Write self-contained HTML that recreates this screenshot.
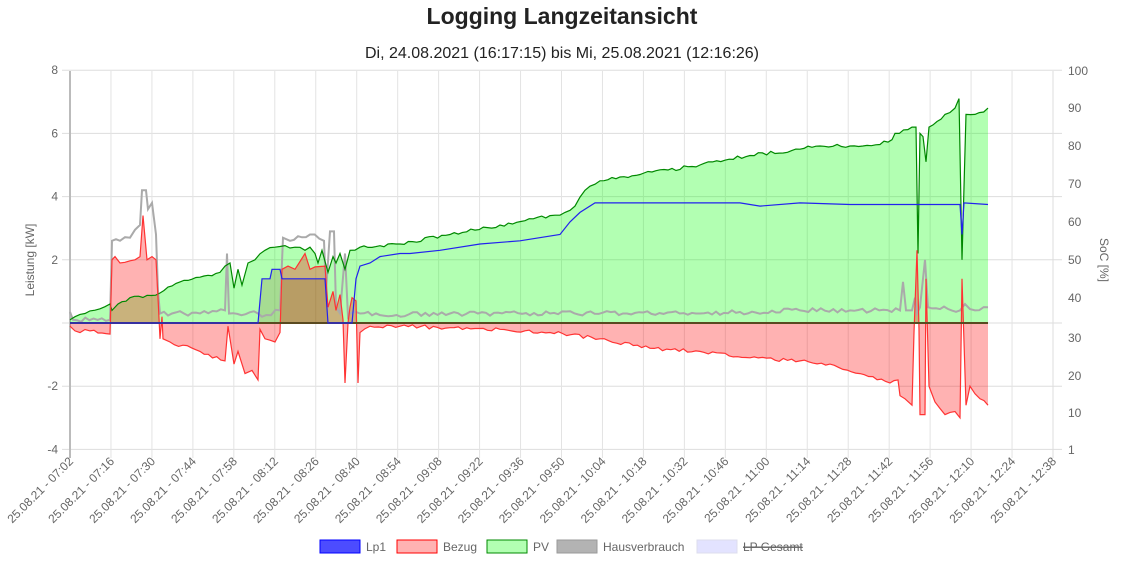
<!DOCTYPE html>
<html><head><meta charset="utf-8"><style>
body{margin:0;background:#fff;width:1125px;height:560px;overflow:hidden;font-family:"Liberation Sans",sans-serif}
svg text{font-family:"Liberation Sans",sans-serif}
</style></head><body>
<svg id="s" width="1125" height="560" xmlns="http://www.w3.org/2000/svg">
<text x="562" y="24" text-anchor="middle" font-size="23" font-weight="bold" fill="#222">Logging Langzeitansicht</text>
<text x="562" y="58" text-anchor="middle" font-size="16" fill="#222">Di, 24.08.2021 (16:17:15) bis Mi, 25.08.2021 (12:16:26)</text>
<g id="grid"></g>
<g id="data"></g>
<text transform="translate(34,260) rotate(-90)" text-anchor="middle" font-size="12" fill="#666">Leistung [kW]</text>
<text transform="translate(1100,260) rotate(90)" text-anchor="middle" font-size="12" fill="#666">SoC [%]</text>
<g font-size="12" fill="#666">
<rect x="320" y="540" width="40" height="13" fill="rgba(0,0,255,0.7)" stroke="#00f"/><text x="366" y="551">Lp1</text>
<rect x="397" y="540" width="40" height="13" fill="rgba(255,0,0,0.3)" stroke="#f00"/><text x="443" y="551">Bezug</text>
<rect x="487" y="540" width="40" height="13" fill="rgba(0,255,0,0.3)" stroke="#080"/><text x="533" y="551">PV</text>
<rect x="557" y="540" width="40" height="13" fill="rgba(128,128,128,0.6)" stroke="#999"/><text x="603" y="551">Hausverbrauch</text>
<rect x="697" y="540" width="40" height="13" fill="rgba(200,200,255,0.5)" stroke="#dde"/><text x="743" y="551" text-decoration="line-through">LP Gesamt</text>
<line x1="743" y1="547" x2="802" y2="547" stroke="#666"/>
</g>
</svg>
<script>
const NS="http://www.w3.org/2000/svg";
const g=document.getElementById('grid'),d=document.getElementById('data');
function el(p,tag,a,txt){const e=document.createElementNS(NS,tag);for(const k in a)e.setAttribute(k,a[k]);if(txt)e.textContent=txt;p.appendChild(e);return e;}
const Y=v=>323-v*31.6;
const L=70,R=1053;
for(let v=-4;v<=8;v+=2){el(g,'line',{x1:62,x2:1062,y1:Y(v),y2:Y(v),stroke:'#ddd'});el(g,'text',{x:58,y:Y(v)+4,'text-anchor':'end','font-size':12,fill:'#666'},v);}
const soc=[[100,71],[90,108],[80,146],[70,184],[60,222],[50,260],[40,298],[30,338],[20,376],[10,413],[1,450]];
soc.forEach(s=>el(g,'text',{x:1068,y:s[1]+4,'font-size':12,fill:'#666'},s[0]));
const labs=['07:02','07:16','07:30','07:44','07:58','08:12','08:26','08:40','08:54','09:08','09:22','09:36','09:50','10:04','10:18','10:32','10:46','11:00','11:14','11:28','11:42','11:56','12:10','12:24','12:38'];
labs.forEach((l,i)=>{const x=L+i*(R-L)/24;el(g,'line',{x1:x,x2:x,y1:71,y2:458,stroke:'#e3e3e3'});
el(g,'text',{transform:`translate(${x+4},${462}) rotate(-45)`,'text-anchor':'end','font-size':12,fill:'#666'},'25.08.21 - '+l);});
el(g,'line',{x1:L,x2:L,y1:71,y2:458,stroke:'#bbb','stroke-width':2});
el(g,'line',{x1:R,x2:R,y1:71,y2:458,stroke:'#ddd'});
const pv=[[70,0.1],[75,0.2],[85,0.3],[100,0.45],[110,0.6],[112,0.4],[118,0.6],[130,0.8],[160,0.95],[180,1.3],[200,1.45],[220,1.6],[225,1.8],[230,1.9],[234,1.1],[238,1.7],[242,1.2],[248,1.9],[255,2.0],[265,2.3],[275,2.4],[285,2.45],[295,2.4],[305,2.3],[310,2.4],[315,2.2],[318,1.9],[322,2.3],[328,1.6],[333,2.1],[336,1.9],[340,2.2],[345,1.7],[350,2.3],[360,2.4],[400,2.5],[450,2.8],[500,3.1],[550,3.4],[565,3.5],[575,3.7],[585,4.2],[600,4.5],[640,4.7],[700,5.0],[750,5.3],[800,5.5],[820,5.6],[850,5.6],[880,5.65],[892,5.8],[895,6.0],[912,6.2],[916,6.2],[918,2.2],[920,6.0],[923,5.9],[926,5.1],[929,6.2],[945,6.6],[955,6.8],[959,7.1],[962,2.0],[966,6.6],[975,6.6],[988,6.8]];
const bz=[[70,-0.1],[75,-0.25],[90,-0.25],[110,-0.35],[112,2.0],[115,2.1],[120,1.9],[135,2.0],[140,2.1],[143,3.4],[147,2.0],[152,2.1],[156,2.0],[158,0.8],[160,-0.5],[162,0.2],[163,-0.5],[170,-0.6],[200,-0.9],[225,-1.2],[228,-0.1],[230,-0.5],[234,-1.3],[238,-0.9],[245,-1.6],[252,-1.5],[258,-1.8],[260,-0.2],[265,-0.5],[275,-0.6],[280,-0.3],[282,1.7],[288,1.8],[295,1.7],[305,2.2],[310,1.7],[325,1.8],[328,0.5],[333,1.0],[336,0.4],[340,0.9],[343,0.1],[345,-1.9],[348,0.0],[350,0.5],[352,0.8],[356,0.7],[358,-1.9],[360,-0.3],[370,-0.1],[400,-0.1],[450,-0.15],[500,-0.2],[550,-0.3],[600,-0.5],[650,-0.8],[700,-0.9],[750,-1.1],[800,-1.2],[830,-1.3],[860,-1.6],[890,-1.9],[898,-1.8],[900,-2.3],[905,-2.4],[912,-2.6],[914,-0.3],[917,2.3],[919,-0.2],[920,-2.9],[925,-2.9],[926,1.4],[929,-2.0],[935,-2.5],[945,-2.9],[955,-2.8],[960,-3.0],[962,1.4],[966,-2.6],[970,-2.0],[980,-2.4],[988,-2.6]];
const hv=[[70,0.35],[73,0.1],[110,0.1],[112,2.6],[120,2.6],[130,2.7],[140,3.1],[142,4.2],[146,4.2],[148,3.6],[152,3.8],[156,2.8],[158,1.0],[160,0.3],[200,0.3],[225,0.4],[227,2.2],[229,0.3],[258,0.3],[262,0.2],[280,0.4],[283,2.7],[290,2.6],[310,2.8],[324,2.6],[326,1.0],[330,2.9],[334,2.9],[336,0.5],[340,0.3],[345,2.2],[348,0.2],[350,0.3],[360,0.3],[380,0.25],[450,0.3],[550,0.3],[700,0.3],[800,0.4],[850,0.4],[900,0.4],[903,1.3],[906,0.4],[912,0.4],[915,0.8],[917,0.3],[920,0.5],[925,2.0],[928,0.5],[960,0.4],[965,0.6],[975,0.4],[988,0.5]];
const lp=[[70,0],[258,0],[262,1.4],[270,1.4],[272,1.7],[280,1.7],[282,1.4],[325,1.4],[328,0],[352,0],[356,1.4],[360,1.8],[370,1.9],[380,2.1],[400,2.2],[410,2.2],[440,2.3],[480,2.5],[520,2.6],[560,2.8],[570,3.2],[580,3.5],[595,3.8],[700,3.8],[740,3.8],[760,3.7],[800,3.8],[850,3.75],[960,3.75],[962,2.8],[964,3.8],[988,3.75]];
// densify with small deterministic jitter
function jit(a,amp,seed){const o=[];for(let i=0;i<a.length-1;i++){const[x0,y0]=a[i],[x1,y1]=a[i+1];o.push([x0,y0]);const n=Math.floor((x1-x0)/4);for(let k=1;k<n;k++){const t=k/n,x=x0+(x1-x0)*t;const r=Math.sin(x*12.9898+seed)*43758.5453;const f=r-Math.floor(r)-0.5;o.push([x,y0+(y1-y0)*t+f*amp]);}}o.push(a[a.length-1]);return o;}
const pvJ=jit(pv,0.12,1),bzJ=jit(bz,0.12,2),hvJ=jit(hv,0.15,3);
const pts=a=>a.map(p=>p[0].toFixed(1)+','+Y(p[1]).toFixed(1)).join(' ');
const area=a=>`${a[0][0]},${Y(0)} `+pts(a)+` ${a[a.length-1][0]},${Y(0)}`;
el(d,'polygon',{points:area(pvJ),fill:'rgba(0,255,0,0.3)'});
el(d,'polygon',{points:area(bzJ),fill:'rgba(255,0,0,0.3)'});
el(d,'polygon',{points:area(lp.filter(p=>p[0]<=330).concat([[330,0]])),fill:'rgba(110,60,0,0.18)'});
el(d,'polyline',{points:pts(hvJ),fill:'none',stroke:'#aaa','stroke-width':2});
el(d,'polyline',{points:pts(pvJ),fill:'none',stroke:'#080','stroke-width':1.2});
el(d,'polyline',{points:pts(bzJ),fill:'none',stroke:'#f33','stroke-width':1.2});
el(d,'line',{x1:70,x2:988,y1:Y(0),y2:Y(0),stroke:'#5a4a20','stroke-width':2});
el(d,'polyline',{points:pts(lp),fill:'none',stroke:'#22e','stroke-width':1.2});
</script>
</body></html>
